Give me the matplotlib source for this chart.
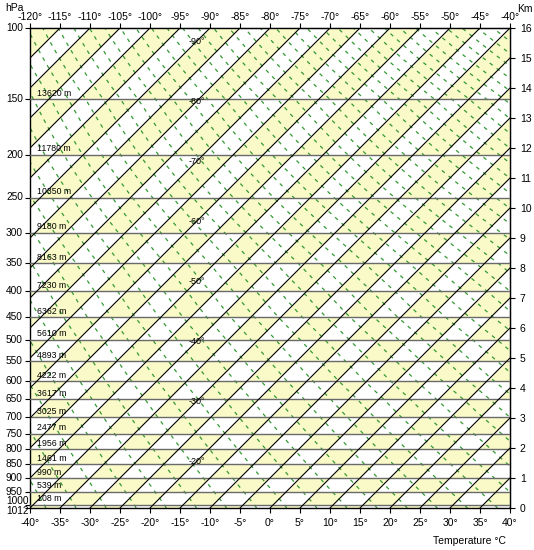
import numpy as np
import matplotlib
matplotlib.use("Agg")
import matplotlib.pyplot as plt
from matplotlib.transforms import blended_transform_factory

plt.rcParams['font.family'] = ['Liberation Sans', 'DejaVu Sans']

# ---- data ----
pressures = [1012, 1000, 950, 900, 850, 800, 750, 700, 650, 600, 550, 500,
             450, 400, 350, 300, 250, 200, 150, 100]
heights_m = [0, 108, 539, 990, 1461, 1956, 2477, 3025, 3617, 4222, 4893, 5610,
             6362, 7230, 8163, 9180, 10350, 11780, 13620, 16000]
height_labels = ["108 m", "539 m", "990 m", "1461 m", "1956 m", "2477 m", "3025 m",
                 "3617 m", "4222 m", "4893 m", "5610 m", "6362 m", "7230 m",
                 "8163 m", "9180 m", "10350 m", "11780 m", "13620 m"]
bottom_temps = list(range(-40, 45, 5))
top_temps = list(range(-120, -35, 5))
km_ticks = list(range(0, 17))
isotherm_labels = [-90, -80, -70, -60, -50, -40, -30, -20]
thetas = list(range(230, 460, 5))  # dry adiabats, K

SKEW = 5.0  # deg per km
yellow = '#fafac8'

fig = plt.figure(figsize=(5.34, 5.5), dpi=100)
ax = fig.add_axes([30/534, (550-508)/550, 480/534, 480/550])
ax.set_xlim(-40, 40)
ax.set_ylim(0, 16)

z_km = np.array(heights_m) / 1000.0

# checkerboard fill between isotherms and pressure levels
iso_all = list(range(-125, 45, 5))
for r in range(len(z_km) - 1):
    z0, z1 = z_km[r], z_km[r + 1]
    zz = np.array([z0, z1])
    for T in iso_all:
        k = T // 5
        if (k + r) % 2 == 0:
            ax.fill_betweenx(zz, T + SKEW * zz, T + 5 + SKEW * zz,
                             color=yellow, lw=0, zorder=1)

# pressure lines
for z in z_km[1:-1]:
    ax.axhline(z, color='#6a6a6a', lw=1.0, zorder=3)

# isotherms
zline = np.array([0, 16.0])
for T in iso_all:
    ax.plot(T + SKEW * zline, zline, color='black', lw=0.8, zorder=4)

# dry adiabats
zfine = np.linspace(0, 16, 300)
logp = np.interp(zfine, z_km, np.log(pressures))
pf = np.exp(logp)
for th in thetas:
    Tc = th * (pf / 1000.0) ** 0.286 - 273.15
    ax.plot(Tc + SKEW * zfine, zfine, color='#349a34', lw=0.9,
            linestyle=(0, (3, 4)), zorder=2)

# height labels
for z, lab in zip(z_km[1:-1], height_labels):
    ax.text(-38.9, z + 0.05, lab, fontsize=6.3, ha='left', va='bottom', zorder=5)

# isotherm labels
for T in isotherm_labels:
    zl = (-12.2 - T) / SKEW
    ax.text(-12.2, zl, f"{T}°", fontsize=6.5, ha='center', va='center', zorder=5)

# axes
ax.set_xticks(bottom_temps)
ax.set_xticklabels([f"{t}°" for t in bottom_temps])
ax.set_yticks(z_km)
ax.set_yticklabels([])
ax.tick_params(axis='both', labelsize=7.5, direction='out', length=3.5, width=0.8)

# left pressure labels (left aligned like the reference)
tr = blended_transform_factory(fig.transFigure, ax.transData)
for p, z in zip(pressures, z_km):
    dz = 0.0
    if p == 1000:
        dz = 0.13
    elif p == 1012:
        dz = -0.1
    ax.text(6/534, z + dz, str(p), transform=tr, fontsize=7.3,
            ha='left', va='center', clip_on=False)

secx = ax.secondary_xaxis('top', functions=(lambda x: x - 80, lambda x: x + 80))
secx.set_xticks(top_temps)
secx.set_xticklabels([f"{t}°" for t in top_temps])
secx.tick_params(labelsize=7.5, direction='out', length=3.5, width=0.8, pad=1)

secy = ax.secondary_yaxis('right')
secy.set_yticks(km_ticks)
secy.set_yticklabels([str(k) for k in km_ticks])
secy.tick_params(labelsize=7.5, direction='out', length=3.5, width=0.8)

for s in list(ax.spines.values()):
    s.set_linewidth(1.0)

fig.text(5/534, 1 - 8/550, "hPa", fontsize=7.5, ha='left', va='center')
fig.text(517/534, 1 - 9/550, "Km", fontsize=7.5, ha='left', va='center')
fig.text(506/534, 1 - 541/550, "Temperature °C", fontsize=7.5, ha='right', va='center')

fig.savefig("out.png", dpi=100)
